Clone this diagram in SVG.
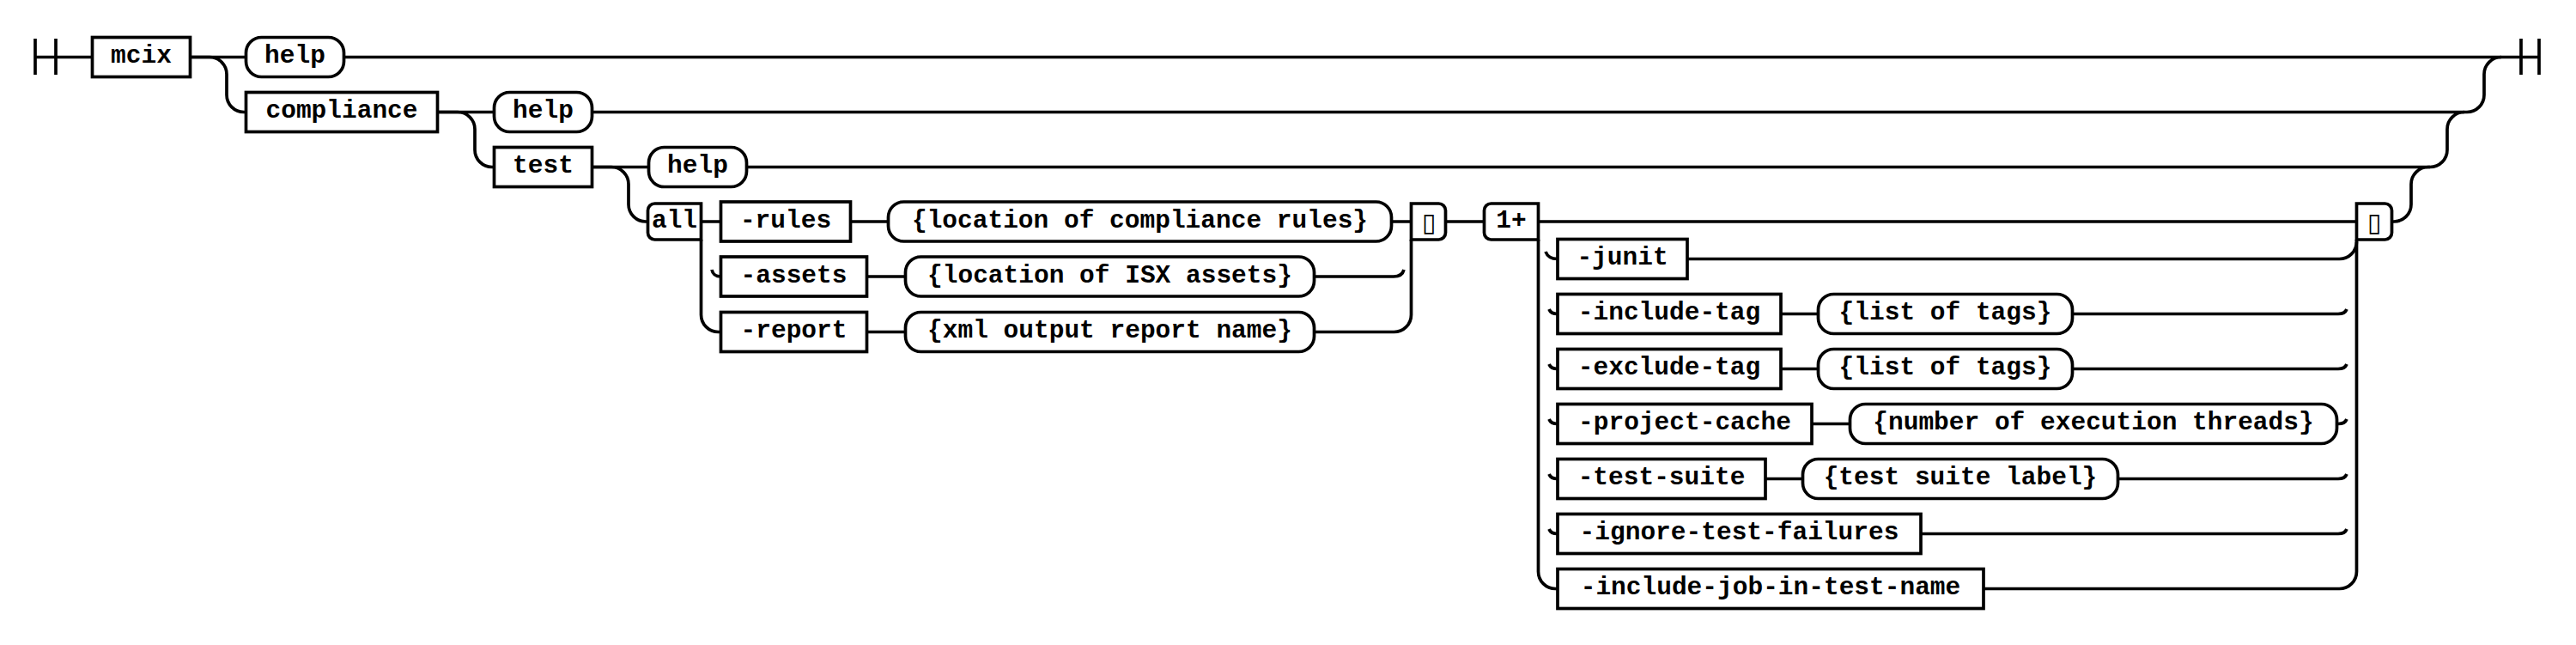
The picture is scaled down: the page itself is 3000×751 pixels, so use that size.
<svg xmlns="http://www.w3.org/2000/svg" width="3000" height="751" viewBox="0 0 3000 751">
<style>
.l{fill:none;stroke:#000;stroke-width:3.7}
.b{fill:#fff;stroke:#000;stroke-width:3.7}
.tx{font-family:"Liberation Mono","Courier New",monospace;font-weight:bold;font-size:29.5px;text-anchor:middle;fill:#000}
.tf{font-family:"DejaVu Sans",sans-serif;font-size:30px;text-anchor:middle;fill:#000}
</style>
<rect width="3000" height="751" fill="#fff"/>
<g id="connectors" class="l">
<path d="M41,45V87M65,45V87M41,66.5H107.5"/>
<path d="M221.5,66.5H286.5M400.5,66.5H2957M2936,45V87M2957,45V87"/>
<path d="M221.5,66.5H244A20,20 0 0 1 264,86.5V110.5A20,20 0 0 0 284,130.5H286.5"/>
<path d="M509.5,130.5H575.5M689.5,130.5H2873A20,20 0 0 0 2893,110.5V86.5A20,20 0 0 1 2913,66.5"/>
<path d="M509.5,130.5H533A20,20 0 0 1 553,150.5V174.5A20,20 0 0 0 573,194.5H575.5"/>
<path d="M689.5,194.5H755.5M869.5,194.5H2830A20,20 0 0 0 2850,174.5V150.5A20,20 0 0 1 2870,130.5"/>
<path d="M689.5,194.5H712A20,20 0 0 1 732,214.5V238A20,20 0 0 0 752,258H754.5"/>
<path d="M816.5,258H839.5M990.5,258H1034.5M1620.5,258H1643.5M1683.5,258H1728.5M1791.5,258H2744.5M2785.5,258H2788A20,20 0 0 0 2808,238V214.5A20,20 0 0 1 2828,194.5H2830"/>
<path d="M816.5,279V366.5A20,20 0 0 0 836.5,386.5H839.5M829,314Q830.5,322 839.5,322"/>
<path d="M1009.5,322H1054.5M1530.5,322H1623Q1633,322 1635,314"/>
<path d="M1009.5,386.5H1054.5M1530.5,386.5H1623.5A20,20 0 0 0 1643.5,366.5V279"/>
<path d="M1791.5,279V665.5A20,20 0 0 0 1811.5,685.5H1814"/>
<path d="M1800,293Q1803,301.5 1814,301.5M1804,360Q1806,365.5 1814,365.5M1804,424Q1806,429.5 1814,429.5M1804,488Q1806,493.5 1814,493.5M1804,552Q1806,557.5 1814,557.5M1804,616Q1806,621.5 1814,621.5"/>
<path d="M2744.5,279V665.5A20,20 0 0 1 2724.5,685.5H2310"/>
<path d="M1965,301.5H2724.5A20,20 0 0 0 2744.5,281.5"/>
<path d="M2074,365.5H2117.5M2413.5,365.5H2723Q2731,365.5 2733,360"/>
<path d="M2074,429.5H2117.5M2413.5,429.5H2723Q2731,429.5 2733,424"/>
<path d="M2110,493.5H2154.5M2721.5,493.5H2723Q2731,493.5 2733,488"/>
<path d="M2056,557.5H2099.5M2466.5,557.5H2723Q2731,557.5 2733,552"/>
<path d="M2237,621.5H2723Q2731,621.5 2733,616"/>
</g>
<g id="n-mcix"><rect class="b" x="107.5" y="43.5" width="114" height="46"/><text class="tx" x="164.5" y="73">mcix</text></g>
<g id="n-help1"><rect class="b" x="286.5" y="43.5" width="114" height="46" rx="18"/><text class="tx" x="343.5" y="73">help</text></g>
<g id="n-compliance"><rect class="b" x="286.5" y="107.5" width="223" height="46"/><text class="tx" x="398" y="137">compliance</text></g>
<g id="n-help2"><rect class="b" x="575.5" y="107.5" width="114" height="46" rx="18"/><text class="tx" x="632.5" y="137">help</text></g>
<g id="n-test"><rect class="b" x="575.5" y="171.5" width="114" height="46"/><text class="tx" x="632.5" y="201">test</text></g>
<g id="n-help3"><rect class="b" x="755.5" y="171.5" width="114" height="46" rx="18"/><text class="tx" x="812.5" y="201">help</text></g>
<g id="n-all"><path class="b" d="M816.5,237H762.5A8,8 0 0 0 754.5,245V271A8,8 0 0 0 762.5,279H816.5Z"/><text class="tx" x="785.5" y="264.5">all</text></g>
<g id="n-rules"><rect class="b" x="839.5" y="235" width="151" height="46"/><text class="tx" x="915" y="264.5">-rules</text></g>
<g id="n-rules-val"><rect class="b" x="1034.5" y="235" width="586" height="46" rx="18"/><text class="tx" x="1327.5" y="264.5">{location of compliance rules}</text></g>
<g id="n-assets"><rect class="b" x="839.5" y="299" width="170" height="46"/><text class="tx" x="924.5" y="328.5">-assets</text></g>
<g id="n-assets-val"><rect class="b" x="1054.5" y="299" width="476" height="46" rx="18"/><text class="tx" x="1292.5" y="328.5">{location of ISX assets}</text></g>
<g id="n-report"><rect class="b" x="839.5" y="363.5" width="170" height="46"/><text class="tx" x="924.5" y="393">-report</text></g>
<g id="n-report-val"><rect class="b" x="1054.5" y="363.5" width="476" height="46" rx="18"/><text class="tx" x="1292.5" y="393">{xml output report name}</text></g>
<g id="n-end1"><path class="b" d="M1643.5,237H1675.5A8,8 0 0 1 1683.5,245V271A8,8 0 0 1 1675.5,279H1643.5Z"/><text class="tf" x="1664" y="269">&#x25AF;</text></g>
<g id="n-oneplus"><path class="b" d="M1791.5,237H1736.5A8,8 0 0 0 1728.5,245V271A8,8 0 0 0 1736.5,279H1791.5Z"/><text class="tx" x="1760" y="264.5">1+</text></g>
<g id="n-junit"><rect class="b" x="1814" y="278.5" width="151" height="46"/><text class="tx" x="1889.5" y="308">-junit</text></g>
<g id="n-include-tag"><rect class="b" x="1814" y="342.5" width="260" height="46"/><text class="tx" x="1944" y="372">-include-tag</text></g>
<g id="n-include-tag-val"><rect class="b" x="2117.5" y="342.5" width="296" height="46" rx="18"/><text class="tx" x="2265.5" y="372">{list of tags}</text></g>
<g id="n-exclude-tag"><rect class="b" x="1814" y="406.5" width="260" height="46"/><text class="tx" x="1944" y="436">-exclude-tag</text></g>
<g id="n-exclude-tag-val"><rect class="b" x="2117.5" y="406.5" width="296" height="46" rx="18"/><text class="tx" x="2265.5" y="436">{list of tags}</text></g>
<g id="n-project-cache"><rect class="b" x="1814" y="470.5" width="296" height="46"/><text class="tx" x="1962" y="500">-project-cache</text></g>
<g id="n-project-cache-val"><rect class="b" x="2154.5" y="470.5" width="567" height="46" rx="18"/><text class="tx" x="2438" y="500">{number of execution threads}</text></g>
<g id="n-test-suite"><rect class="b" x="1814" y="534.5" width="242" height="46"/><text class="tx" x="1935" y="564">-test-suite</text></g>
<g id="n-test-suite-val"><rect class="b" x="2099.5" y="534.5" width="367" height="46" rx="18"/><text class="tx" x="2283" y="564">{test suite label}</text></g>
<g id="n-ignore"><rect class="b" x="1814" y="598.5" width="423" height="46"/><text class="tx" x="2025.5" y="628">-ignore-test-failures</text></g>
<g id="n-include-job"><rect class="b" x="1814" y="662.5" width="496" height="46"/><text class="tx" x="2062" y="692">-include-job-in-test-name</text></g>
<g id="n-end2"><path class="b" d="M2744.5,237H2777.5A8,8 0 0 1 2785.5,245V271A8,8 0 0 1 2777.5,279H2744.5Z"/><text class="tf" x="2765" y="269">&#x25AF;</text></g>
</svg>
